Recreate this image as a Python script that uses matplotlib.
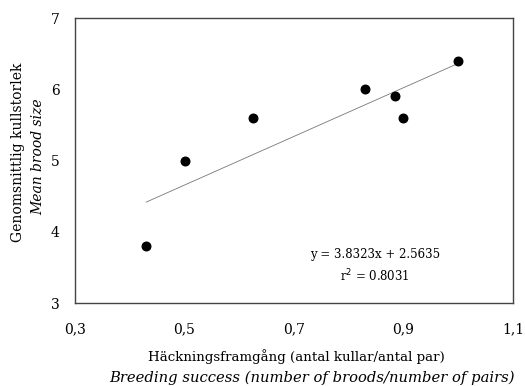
import numpy as np
import matplotlib
matplotlib.use("Agg")
import matplotlib.pyplot as plt

# Häckningsframgång vs kullstorlek
success = [0.43, 0.50, 0.625, 0.83, 0.885, 0.90, 1.00]
brood   = [3.80, 5.00, 5.60, 6.00, 5.90, 5.60, 6.40]
eq_text = "y = 3.8323x + 2.5635\nr$^2$ = 0.8031"
xticks  = [0.3, 0.5, 0.7, 0.9, 1.1]
yticks  = [3, 4, 5, 6, 7]

plt.rcParams["font.family"] = ["DejaVu Serif"]

fig = plt.figure(figsize=(5.25, 3.86), dpi=100)
ax = fig.add_axes([0.143, 0.215, 0.834, 0.738])

ax.scatter(success, brood, s=38, color="black", zorder=3)

# trendlinje (minsta kvadrat)
k, m = np.polyfit(success, brood, 1)
xl = np.array([min(success), max(success)])
ax.plot(xl, k * xl + m, color="#777777", lw=0.6, zorder=2)

ax.text(0.848, 3.52, eq_text, ha="center", va="center", fontsize=8.5,
        linespacing=1.5)

ax.set_xlim(0.3, 1.1)
ax.set_ylim(3, 7)
ax.set_xticks(xticks)
ax.set_xticklabels([f"{v:.1f}".replace(".", ",") for v in xticks])
ax.set_yticks(yticks)
ax.set_yticklabels([str(v) for v in yticks])
ax.tick_params(length=0, labelsize=10, pad=14)
ax.tick_params(axis="y", pad=11)
for s in ax.spines.values():
    s.set_color("#444444")
    s.set_linewidth(1.0)

# axeltexter, svenska + engelska (kursiv)
fig.text(0.564, 0.075, "Häckningsframgång (antal kullar/antal par)",
         ha="center", va="center", fontsize=9.6)
fig.text(0.594, 0.021, "Breeding success (number of broods/number of pairs)",
         ha="center", va="center", fontsize=10.6, style="italic")
fig.text(0.034, 0.606, "Genomsnittlig kullstorlek", rotation=90,
         ha="center", va="center", fontsize=10)
fig.text(0.072, 0.593, "Mean brood size", rotation=90,
         ha="center", va="center", fontsize=10, style="italic")

plt.savefig("out.png", dpi=100)
